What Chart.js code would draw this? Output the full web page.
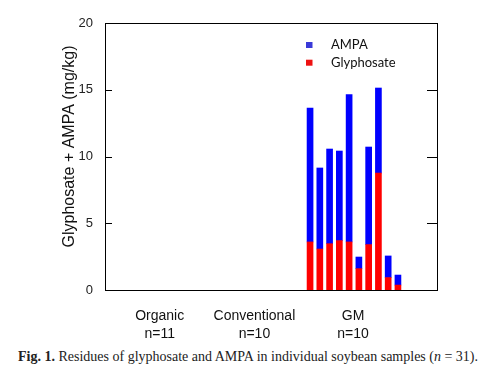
<!DOCTYPE html>
<html>
<head>
<meta charset="utf-8">
<script src="https://cdn.jsdelivr.net/npm/chart.js@4.4.1/dist/chart.umd.min.js"></script>
<style>
  body { margin: 0; background: #fff; width: 490px; height: 381px; overflow: hidden; position: relative; }
  #wrap { position: absolute; left: 0; top: 0; width: 490px; height: 345px; }
  #cap { position: absolute; left: 18px; top: 349px; font: 14px "Liberation Serif", serif; color: #222; white-space: nowrap; }
  #cap b { font-weight: bold; }
</style>
</head>
<body>
<div id="wrap"><canvas id="chart"></canvas></div>
<div id="cap"><b>Fig. 1.</b> Residues of glyphosate and AMPA in individual soybean samples (<i>n</i> = 31).</div>
<script>
// --- data (mg/kg), one entry per soybean sample: 11 organic, 10 conventional, 10 GM ---
const sampleIdx = [0,1,2,3,4,5,6,7,8,9,10,11,12,13,14,15,16,17,18,19,20,21,22,23,24,25,26,27,28,29,30];
const glyphosate = [0,0,0,0,0,0,0,0,0,0,0, 0,0,0,0,0,0,0,0,0,0, 3.6,3.07,3.47,3.7,3.6,1.6,3.4,8.76,0.93,0.37];
const ampa       = [0,0,0,0,0,0,0,0,0,0,0, 0,0,0,0,0,0,0,0,0,0, 10.03,6.07,7.09,6.71,11.03,0.87,7.31,6.37,1.62,0.75];

const groupNames = ['Organic', 'Conventional', 'GM'];
const groupN = [11, 10, 10];
const groupPos = [5.6, 15.3, 25.4];
const yTicks = [0, 5, 10, 15, 20];

// frame, inward ticks, y title, legend
const extras = {
    id: 'extras',
    afterDraw(chart) {
        const ctx = chart.ctx;
        const a = chart.chartArea;
        const ys = chart.scales.y;
        const L = Math.round(a.left), R = Math.round(a.right), T = Math.round(a.top), B = Math.round(a.bottom);
        ctx.save();
        ctx.fillStyle = '#000';
        ctx.fillRect(L, T, R - L + 1, 1);
        ctx.fillRect(L, B, R - L + 1, 1);
        ctx.fillRect(L, T, 1, B - T + 1);
        ctx.fillRect(R, T, 1, B - T + 1);
        yTicks.slice(1, -1).forEach(v => {
            const y = Math.round(ys.getPixelForValue(v));
            ctx.fillRect(L, y, 7, 1);
            ctx.fillRect(R - 10, y, 10, 1);
        });

        // y title
        ctx.save();
        ctx.translate(70, (a.top + a.bottom) / 2 - 10);
        ctx.rotate(-Math.PI / 2);
        ctx.font = '16px "Liberation Sans", Arial, sans-serif';
        ctx.fillStyle = '#111';
        ctx.textAlign = 'center';
        ctx.textBaseline = 'middle';
        ctx.fillText('Glyphosate + AMPA (mg/kg)', 0, 0);
        ctx.restore();

        // legend
        const items = [['AMPA', '#3a3ad8', 22], ['Glyphosate', '#ee1111', 39.7]];
        ctx.font = '13px Lato, sans-serif';
        ctx.textBaseline = 'middle';
        ctx.textAlign = 'left';
        items.forEach(([t, c, dy]) => {
            ctx.fillStyle = c;
            ctx.fillRect(a.left + 201, a.top + dy - 3, 6.5, 6);
            ctx.fillStyle = '#111';
            ctx.fillText(t, a.left + 226, a.top + dy);
        });
        ctx.restore();
    }
};

new Chart(document.getElementById('chart'), {
    type: 'bar',
    data: {
        datasets: [
            { label: 'Glyphosate', data: sampleIdx.map(i => ({ x: i, y: glyphosate[i] || null })), backgroundColor: '#ff0000', barThickness: 6, borderWidth: 0 },
            { label: 'AMPA', data: sampleIdx.map(i => ({ x: i, y: ampa[i] || null })), backgroundColor: '#0000ff', barThickness: 6, borderWidth: 0 }
        ]
    },
    options: {
        responsive: true,
        maintainAspectRatio: false,
        animation: false,
        layout: { padding: { top: 23, right: 53, left: 0, bottom: 0 } },
        plugins: { legend: { display: false }, tooltip: { enabled: false } },
        scales: {
            x: {
                type: 'linear', stacked: true, min: 0, max: 34, offset: false,
                grid: { display: false },
                border: { display: false },
                afterBuildTicks: s => { s.ticks = groupPos.map(v => ({ value: v })); },
                afterFit: s => { s.height = 55; },
                ticks: {
                    autoSkip: false, maxRotation: 0, padding: 9,
                    color: '#111',
                    font: { family: '"Liberation Sans", Arial, sans-serif', size: 14, lineHeight: 1.3 },
                    callback: v => {
                        const k = groupPos.indexOf(v);
                        return k < 0 ? '' : [groupNames[k], 'n=' + groupN[k]];
                    }
                }
            },
            y: {
                stacked: true, min: 0, max: 20,
                grid: { display: false },
                border: { display: false },
                afterBuildTicks: s => { s.ticks = yTicks.map(v => ({ value: v })); },
                afterFit: s => { s.width = 105; },
                ticks: {
                    padding: 4, color: '#222',
                    font: { family: '"Liberation Sans", Arial, sans-serif', size: 13 }
                }
            }
        }
    },
    plugins: [extras]
});
</script>
</body>
</html>
